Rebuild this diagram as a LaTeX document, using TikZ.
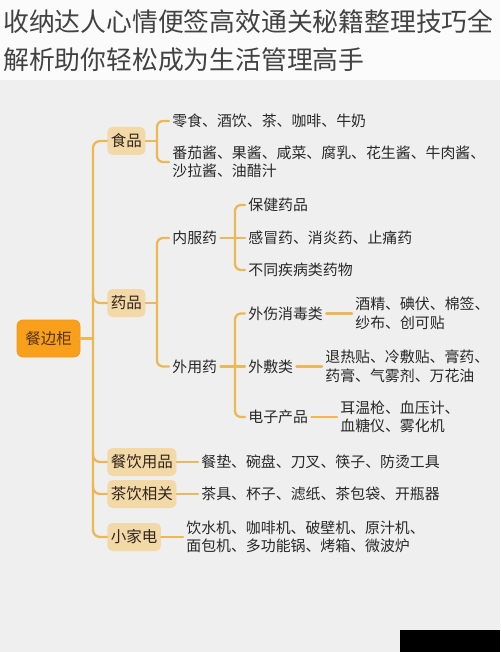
\documentclass[tikz,border=0pt]{standalone}
\usepackage{fontspec}
\setmainfont{Noto Sans CJK SC}

\tikzset{every picture/.style={line width=0.75pt}}

\begin{document}
\begin{tikzpicture}[x=1pt,y=1pt,yscale=-1,xscale=1,
    branch/.style={draw={rgb, 255:red, 236; green, 184; blue, 86 }, line width=2.3pt, line cap=round},
    rootbox/.style={fill={rgb, 255:red, 248; green, 160; blue, 28 }, draw={rgb, 255:red, 242; green, 150; blue, 20 }, rounded corners=6pt, text={rgb, 255:red, 88; green, 52; blue, 14 }, font=\fontsize{15.5}{18}\selectfont, minimum width=63pt, minimum height=37pt, inner sep=0pt},
    catbox/.style={fill={rgb, 255:red, 243; green, 216; blue, 168 }, rounded corners=5pt, text={rgb, 255:red, 48; green, 38; blue, 28 }, font=\fontsize{15.5}{18}\selectfont, inner xsep=3.5pt, minimum height=28pt, anchor=west},
    leaf/.style={text={rgb, 255:red, 40; green, 40; blue, 40 }, font=\fontsize{14.9}{18.5}\selectfont, align=left, inner sep=3pt, anchor=west},
    titletext/.style={text={rgb, 255:red, 66; green, 66; blue, 66 }, font=\fontsize{25.8}{30}\selectfont, inner sep=0pt, anchor=west}]
    
    %Shape: Rectangle
    \fill[color={rgb, 255:red, 251; green, 251; blue, 251 }] (0,0) rectangle (500,80);
    %Shape: Rectangle
    \fill[color={rgb, 255:red, 239; green, 239; blue, 239 }] (0,80) rectangle (500,652);
    %Shape: Rectangle
    \fill[black] (400,630) rectangle (500,652);
    \useasboundingbox (0,0) rectangle (500,652);
    
    % Title
    \node (title1) [titletext] at (3,22) {收纳达人心情便签高效通关秘籍整理技巧全};
    \node (title2) [titletext] at (3,60) {解析助你轻松成为生活管理高手};
    
    % Root and first level
    \node (root) [rootbox] at (48.5,338.5) {餐边柜};
    \node (shipin) [catbox] at (107,141) {食品};
    \node (yaopin) [catbox] at (107,303) {药品};
    \node (canyin) [catbox] at (107,462) {餐饮用品};
    \node (chayin) [catbox] at (107,494) {茶饮相关};
    \node (xjd) [catbox] at (107,537) {小家电};
    
    % Text Node
    \node (f1) [leaf] at (169,121) {零食、酒饮、茶、咖啡、牛奶};
    \node (f2) [leaf] at (169,162) {番茄酱、果酱、咸菜、腐乳、花生酱、牛肉酱、\\沙拉酱、油醋汁};
    \node (neifu) [leaf] at (169,238) {内服药};
    \node (waiyong) [leaf] at (169,366.5) {外用药};
    \node (n1) [leaf] at (245,205) {保健药品};
    \node (n2) [leaf] at (245,238) {感冒药、消炎药、止痛药};
    \node (n3) [leaf] at (245,270) {不同疾病类药物};
    \node (w1) [leaf] at (245,313.5) {外伤消毒类};
    \node (w2) [leaf] at (245,366.5) {外敷类};
    \node (w3) [leaf] at (245,417) {电子产品};
    \node (w1a) [leaf] at (352,313.5) {酒精、碘伏、棉签、\\纱布、创可贴};
    \node (w2a) [leaf] at (322,366.5) {退热贴、冷敷贴、膏药、\\药膏、气雾剂、万花油};
    \node (w3a) [leaf] at (337,417) {耳温枪、血压计、\\血糖仪、雾化机};
    \node (c1) [leaf] at (198,462) {餐垫、碗盘、刀叉、筷子、防烫工具};
    \node (c2) [leaf] at (198,494) {茶具、杯子、滤纸、茶包袋、开瓶器};
    \node (c3) [leaf] at (183,537) {饮水机、咖啡机、破壁机、原汁机、\\面包机、多功能锅、烤箱、微波炉};
    
    % Bracket lines
    \coordinate (trunk) at (93,0);
    \coordinate (fb) at (157,0);
    \coordinate (nb) at (235,0);
    
    %Straight Lines
    \draw[branch] (root.east) -- (root.east -| trunk);
    \draw[branch, rounded corners=7pt] (shipin.west) -- (shipin.west -| trunk) -- (xjd.west -| trunk) -- (xjd.west);
    \foreach \n in {yaopin,canyin,chayin}
        \draw[branch, rounded corners=7pt] (\n.west -| trunk) ++(0,-10) |- (\n.west);
    
    %Straight Lines
    \draw[branch] (shipin.east) -- (shipin.east -| fb);
    \draw[branch, rounded corners=6pt] (f1.west) -- (f1.west -| fb) -- (f2.west -| fb) -- (f2.west);
    \draw[branch] (yaopin.east) -- (yaopin.east -| fb);
    \draw[branch, rounded corners=6pt] (neifu.west) -- (neifu.west -| fb) -- (waiyong.west -| fb) -- (waiyong.west);
    
    %Straight Lines
    \draw[branch] (neifu.east) -- (n2.west);
    \draw[branch, rounded corners=6pt] (n1.west) -- (n1.west -| nb) -- (n3.west -| nb) -- (n3.west);
    \draw[branch] (waiyong.east) -- (w2.west);
    \draw[branch, rounded corners=6pt] (w1.west) -- (w1.west -| nb) -- (w3.west -| nb) -- (w3.west);
    
    %Straight Lines
    \draw[branch] (w1) -- (w1a);
    \draw[branch] (w2) -- (w2a);
    \draw[branch] (w3) -- (w3a);
    \draw[branch] (canyin) -- (c1);
    \draw[branch] (chayin) -- (c2);
    \draw[branch] (xjd) -- (c3);
    
\end{tikzpicture}
\end{document}
